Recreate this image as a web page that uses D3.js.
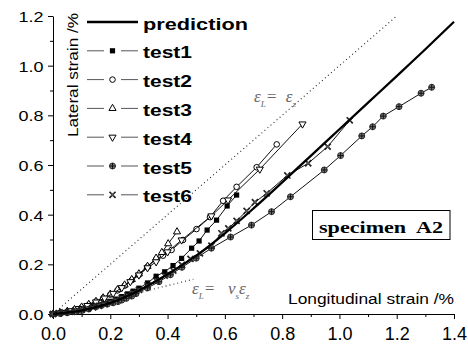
<!DOCTYPE html>
<html>
<head>
<meta charset="utf-8">
<script src="https://cdn.jsdelivr.net/npm/d3@7"></script>
<style>
  body { margin: 0; background: #fff; }
  svg { display: block; font-family: "Liberation Sans", Arial, sans-serif; }
</style>
</head>
<body>
<svg id="chart"></svg>
<script>
const xTicks = [0.0, 0.2, 0.4, 0.6, 0.8, 1.0, 1.2, 1.4];
const yTicks = [0.0, 0.2, 0.4, 0.6, 0.8, 1.0, 1.2];
const xMinor = [0.1, 0.3, 0.5, 0.7, 0.9, 1.1, 1.3];
const yMinor = [0.1, 0.3, 0.5, 0.7, 0.9, 1.1];

const prediction = [
  [0, 0], [0.1, 0.015], [0.2, 0.045], [0.3, 0.095], [0.4, 0.16], [0.5, 0.235],
  [0.6, 0.325], [0.7, 0.425], [0.8, 0.53], [0.9, 0.637], [1.0, 0.744],
  [1.1, 0.851], [1.2, 0.958], [1.3, 1.066], [1.4, 1.177],
];

const test1 = [
  [0, 0], [0.02, 0.003], [0.04, 0.006], [0.06, 0.009], [0.08, 0.013], [0.1, 0.017],
  [0.12, 0.023], [0.14, 0.029], [0.16, 0.036], [0.18, 0.043], [0.2, 0.051],
  [0.22, 0.06], [0.24, 0.07], [0.26, 0.081], [0.28, 0.092], [0.3, 0.104],
  [0.33, 0.125], [0.36, 0.152], [0.39, 0.17], [0.419, 0.195], [0.449, 0.224],
  [0.484, 0.265], [0.51, 0.294], [0.538, 0.338], [0.571, 0.378], [0.608, 0.435],
  [0.641, 0.479],
];

const test2 = [
  [0, 0], [0.025, 0.005], [0.05, 0.01], [0.075, 0.017], [0.1, 0.026], [0.125, 0.037],
  [0.15, 0.05], [0.175, 0.063], [0.2, 0.078], [0.225, 0.095], [0.25, 0.114],
  [0.275, 0.136], [0.3, 0.158], [0.33, 0.19], [0.361, 0.222], [0.384, 0.235],
  [0.414, 0.258], [0.454, 0.298], [0.501, 0.342], [0.548, 0.39], [0.594, 0.456],
  [0.641, 0.512], [0.711, 0.591], [0.781, 0.683],
];

const test3 = [
  [0, 0], [0.025, 0.005], [0.05, 0.011], [0.075, 0.018], [0.1, 0.028], [0.125, 0.039],
  [0.15, 0.051], [0.175, 0.065], [0.2, 0.08], [0.225, 0.098], [0.25, 0.117],
  [0.275, 0.139], [0.3, 0.162], [0.33, 0.192], [0.36, 0.225], [0.38, 0.248],
  [0.402, 0.283], [0.433, 0.331],
];

const test4 = [
  [0, 0], [0.03, 0.006], [0.06, 0.013], [0.09, 0.022], [0.12, 0.034], [0.15, 0.048],
  [0.18, 0.064], [0.21, 0.083], [0.24, 0.106], [0.27, 0.13], [0.3, 0.157],
  [0.33, 0.186], [0.36, 0.21], [0.4, 0.25], [0.449, 0.298], [0.553, 0.395],
  [0.611, 0.459], [0.722, 0.583], [0.871, 0.765],
];

const test5 = [
  [0, 0], [0.025, 0.002], [0.05, 0.005], [0.075, 0.009], [0.1, 0.014], [0.125, 0.02],
  [0.152, 0.03], [0.17, 0.035], [0.19, 0.04], [0.21, 0.045], [0.227, 0.05],
  [0.24, 0.056], [0.256, 0.063], [0.275, 0.072], [0.29, 0.082], [0.33, 0.105],
  [0.37, 0.13], [0.41, 0.158], [0.45, 0.188], [0.5, 0.225], [0.553, 0.265],
  [0.62, 0.31], [0.693, 0.358], [0.763, 0.412], [0.829, 0.472], [0.947, 0.58],
  [1.004, 0.638], [1.078, 0.717], [1.116, 0.754], [1.153, 0.797], [1.208, 0.835],
  [1.285, 0.889], [1.322, 0.913],
];

const test6 = [
  [0, 0], [0.02, 0.003], [0.04, 0.006], [0.06, 0.009], [0.08, 0.013], [0.1, 0.017],
  [0.12, 0.022], [0.14, 0.027], [0.16, 0.033], [0.18, 0.04], [0.2, 0.048],
  [0.22, 0.056], [0.24, 0.065], [0.26, 0.075], [0.28, 0.085], [0.3, 0.097],
  [0.33, 0.115], [0.36, 0.135], [0.39, 0.155], [0.42, 0.175], [0.45, 0.198],
  [0.48, 0.222], [0.513, 0.244], [0.553, 0.275], [0.588, 0.325], [0.612, 0.345],
  [0.641, 0.375], [0.676, 0.415], [0.705, 0.45], [0.746, 0.486], [0.818, 0.558],
  [0.891, 0.607], [0.959, 0.674], [1.036, 0.78],
];

// reference lines eps_L = eps_z and eps_L = nu_s * eps_z
const unityLine = [[0, 0], [1.2, 1.2]];
const poissonLine = [[0, 0], [0.49, 0.14]];

const seriesNames = ["test1", "test2", "test3", "test4", "test5", "test6"];
const seriesData = [test1, test2, test3, test4, test5, test6];

const width = 468,
  height = 345;

const svg = d3.select("#chart").attr("width", width).attr("height", height);

const x = d3.scaleLinear().domain([0, 1.4]).range([53, 454]);
const y = d3.scaleLinear().domain([0, 1.2]).range([314, 16]);

// axes
const xAxis = d3.axisBottom(x).tickValues(xTicks).tickFormat(d3.format(".1f"))
  .tickSize(5).tickSizeOuter(0).tickPadding(8);
const yAxis = d3.axisLeft(y).tickValues(yTicks).tickFormat(d3.format(".1f"))
  .tickSize(5).tickSizeOuter(0).tickPadding(4.5);

svg.append("g").attr("class", "x minor")
  .attr("transform", "translate(0," + y(0) + ")")
  .call(d3.axisBottom(x).tickValues(xMinor).tickSize(3).tickFormat(""));
svg.append("g").attr("class", "y minor")
  .attr("transform", "translate(" + x(0) + ",0)")
  .call(d3.axisLeft(y).tickValues(yMinor).tickSize(3).tickFormat(""));

const gx = svg.append("g").attr("class", "x axis")
  .attr("transform", "translate(0," + y(0) + ")")
  .call(xAxis);
const gy = svg.append("g").attr("class", "y axis")
  .attr("transform", "translate(" + x(0) + ",0)")
  .call(yAxis);

svg.selectAll(".minor path").remove();
svg.selectAll(".axis path, .axis line, .minor line").attr("stroke", "#000").attr("stroke-width", 1);

gx.selectAll("text").style("font-size", "18px").attr("fill", "#000")
  .style("font-family", "'Liberation Sans', Arial, sans-serif");
gy.selectAll("text").style("font-size", "14px").attr("fill", "#000").attr("dy", "0.4em")
  .style("font-family", "'Liberation Sans', Arial, sans-serif")
  .attr("textLength", 25).attr("lengthAdjust", "spacingAndGlyphs");

// axis titles
svg.append("text")
  .attr("x", 454).attr("y", 304)
  .attr("text-anchor", "end")
  .style("font-size", "14px")
  .attr("textLength", 166).attr("lengthAdjust", "spacingAndGlyphs")
  .text("Longitudinal strain /%");

svg.append("text")
  .attr("transform", "translate(77.5,13) rotate(-90)")
  .attr("text-anchor", "end")
  .style("font-size", "14px")
  .attr("textLength", 124).attr("lengthAdjust", "spacingAndGlyphs")
  .text("Lateral strain /%");

// dotted reference lines
const line = d3.line()
  .x(function (d) { return x(d[0]); })
  .y(function (d) { return y(d[1]); });

[unityLine, poissonLine].forEach(function (d) {
  svg.append("path")
    .attr("d", line(d))
    .attr("fill", "none")
    .attr("stroke", "#222")
    .attr("stroke-width", 1.1)
    .attr("stroke-dasharray", "1,3");
});

function eqLabel(px, py, parts) {
  const t = svg.append("text")
    .attr("x", px).attr("y", py)
    .attr("fill", "#666")
    .style("font-family", "'Liberation Serif', 'Times New Roman', serif")
    .style("font-style", "italic")
    .style("font-size", "17px")
    .style("white-space", "pre");
  parts.forEach(function (p) {
    const s = t.append("tspan").text(p[0]);
    if (p[1]) s.attr("baseline-shift", "sub").style("font-size", "9px");
  });
}
eqLabel(254, 102, [["\u03b5"], ["L", true], ["=  \u03b5"], ["z", true]]);
eqLabel(192, 294, [["\u03b5"], ["L", true], ["=   \u03bd"], ["s", true], ["\u03b5"], ["z", true]]);

// markers
function drawMarker(g, name, cx, cy) {
  if (name === "test1") {
    g.append("rect").attr("x", cx - 2.6).attr("y", cy - 2.6)
      .attr("width", 5.2).attr("height", 5.2).attr("fill", "#000");
  } else if (name === "test2") {
    g.append("circle").attr("cx", cx).attr("cy", cy).attr("r", 2.8)
      .attr("fill", "#fff").attr("stroke", "#000").attr("stroke-width", 1);
  } else if (name === "test3" || name === "test4") {
    g.append("path")
      .attr("d", d3.symbol().type(d3.symbolTriangle).size(22)())
      .attr("transform", "translate(" + cx + "," + cy + ")" + (name === "test4" ? " rotate(180)" : ""))
      .attr("fill", "#fff").attr("stroke", "#000").attr("stroke-width", 1);
  } else if (name === "test5") {
    g.append("circle").attr("cx", cx).attr("cy", cy).attr("r", 3)
      .attr("fill", "#777").attr("stroke", "#222").attr("stroke-width", 0.9);
    g.append("path")
      .attr("d", "M" + (cx - 3) + "," + cy + "h6M" + cx + "," + (cy - 3) + "v6")
      .attr("stroke", "#111").attr("stroke-width", 1);
  } else {
    g.append("path")
      .attr("d", d3.symbol().type(d3.symbolTimes).size(26)())
      .attr("transform", "translate(" + cx + "," + cy + ")")
      .attr("fill", "none").attr("stroke", "#222").attr("stroke-width", 1.7);
    g.append("rect").attr("x", cx - 1.4).attr("y", cy - 1.4)
      .attr("width", 2.8).attr("height", 2.8).attr("fill", "#555");
  }
}

// test series
seriesData.forEach(function (data, i) {
  const g = svg.append("g").attr("class", "series " + seriesNames[i]);
  g.append("path")
    .attr("d", line(data))
    .attr("fill", "none")
    .attr("stroke", "#111")
    .attr("stroke-width", 1);
  data.forEach(function (d) {
    drawMarker(g, seriesNames[i], x(d[0]), y(d[1]));
  });
});

// prediction curve
svg.append("path")
  .attr("d", line.curve(d3.curveMonotoneX)(prediction))
  .attr("fill", "none")
  .attr("stroke", "#000")
  .attr("stroke-width", 2.3);

// legend
const legend = svg.append("g").attr("class", "legend");
const legendNames = ["prediction"].concat(seriesNames);

legendNames.forEach(function (name, i) {
  const ly = 22 + i * 28.8;
  if (name === "prediction") {
    legend.append("line").attr("x1", 87).attr("x2", 138).attr("y1", ly).attr("y2", ly)
      .attr("stroke", "#000").attr("stroke-width", 2.4);
  } else {
    legend.append("line").attr("x1", 87).attr("x2", 104).attr("y1", ly).attr("y2", ly)
      .attr("stroke", "#555").attr("stroke-width", 1);
    legend.append("line").attr("x1", 121).attr("x2", 138).attr("y1", ly).attr("y2", ly)
      .attr("stroke", "#555").attr("stroke-width", 1);
    drawMarker(legend, name, 112.5, ly);
  }
  legend.append("text")
    .attr("x", 143).attr("y", ly + 7.5)
    .style("font-size", "17px").style("font-weight", "bold")
    .attr("textLength", name === "prediction" ? 105 : 49)
    .attr("lengthAdjust", "spacingAndGlyphs")
    .text(name);
});

// specimen label box
svg.append("rect")
  .attr("x", 312.5).attr("y", 210.5).attr("width", 137.5).attr("height", 29)
  .attr("fill", "#fff").attr("stroke", "#000").attr("stroke-width", 1);
svg.append("text")
  .attr("x", 319).attr("y", 233)
  .style("font-family", "'Liberation Serif', 'Times New Roman', serif")
  .style("font-weight", "bold").style("font-size", "17.5px")
  .style("white-space", "pre")
  .attr("textLength", 124).attr("lengthAdjust", "spacingAndGlyphs")
  .text("specimen  A2");
</script>
</body>
</html>
